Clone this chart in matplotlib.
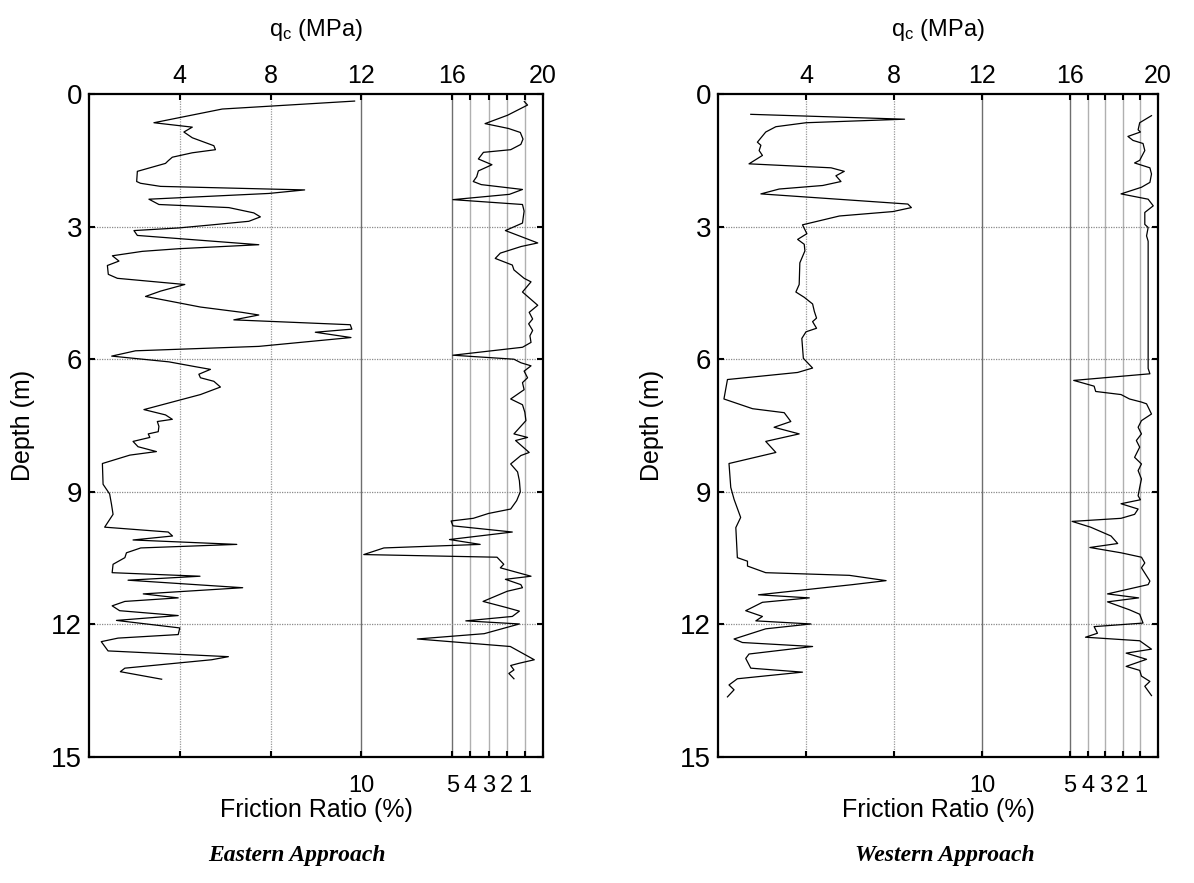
import matplotlib
matplotlib.use("Agg")
import matplotlib.pyplot as plt

plt.rcParams['font.family'] = ['Liberation Sans', 'DejaVu Sans']
plt.rcParams['mathtext.default'] = 'regular'

# ---------------- Eastern Approach ----------------
east_qc_depth = [0.16, 0.34, 0.65, 0.75, 0.86, 0.99, 1.17, 1.26, 1.33, 1.43, 1.51, 1.57, 1.75, 1.98,
                 2.02, 2.09, 2.17, 2.25, 2.38, 2.50, 2.57, 2.69, 2.78, 2.88, 2.96, 3.03, 3.09, 3.20,
                 3.41, 3.50, 3.56, 3.66, 3.78, 3.88, 4.08, 4.17, 4.31, 4.46, 4.58, 4.82, 4.94, 5.00,
                 5.11, 5.22, 5.32, 5.39, 5.51, 5.71, 5.81, 5.93, 6.06, 6.17, 6.23, 6.34, 6.42, 6.50,
                 6.63, 6.80, 6.95, 7.14, 7.26, 7.36, 7.41, 7.52, 7.64, 7.69, 7.77, 7.86, 7.98, 8.09,
                 8.17, 8.36, 8.83, 9.05, 9.28, 9.51, 9.80, 9.91, 10.00, 10.09, 10.19, 10.27, 10.38,
                 10.49, 10.64, 10.83, 10.91, 11.00, 11.17, 11.31, 11.40, 11.48, 11.58, 11.69, 11.80,
                 11.91, 12.08, 12.23, 12.31, 12.39, 12.60, 12.73, 12.80, 12.99, 13.07, 13.24]
east_qc = [11.70, 5.87, 2.86, 4.55, 4.18, 4.55, 5.50, 5.57, 4.55, 3.67, 3.49, 3.37, 2.13, 2.10,
           2.27, 3.15, 9.50, 7.92, 2.64, 3.08, 6.16, 7.26, 7.55, 7.04, 5.43, 3.96, 1.98, 2.13,
           7.48, 3.96, 2.35, 1.03, 1.32, 0.81, 0.85, 1.25, 4.22, 3.15, 2.49, 4.91, 6.74, 7.48,
           6.38, 11.51, 11.58, 9.97, 11.54, 7.48, 2.05, 1.00, 3.52, 4.69, 5.35, 4.84, 4.91, 5.50,
           5.79, 4.91, 3.81, 2.42, 3.37, 3.67, 3.01, 3.08, 3.05, 2.61, 2.68, 1.94, 2.16, 2.97,
           1.80, 0.59, 0.62, 0.91, 0.99, 1.06, 0.69, 3.49, 3.68, 1.94, 6.51, 2.28, 1.65,
           1.58, 1.06, 1.02, 4.89, 1.72, 6.77, 2.39, 3.93, 1.58, 1.02, 1.35, 3.93,
           1.21, 4.00, 3.93, 1.28, 0.54, 0.84, 6.14, 5.40, 1.58, 1.38, 3.20]

east_fr_depth = [0.17, 0.25, 0.48, 0.67, 0.78, 0.87, 1.02, 1.14, 1.26, 1.32, 1.47, 1.60, 1.74, 1.87,
                 1.98, 2.05, 2.16, 2.27, 2.39, 2.50, 2.65, 2.92, 3.09, 3.37, 3.45, 3.60, 3.72, 3.87,
                 3.98, 4.17, 4.25, 4.48, 4.78, 4.94, 5.09, 5.20, 5.35, 5.47, 5.62, 5.73, 5.91, 6.00,
                 6.08, 6.15, 6.27, 6.42, 6.53, 6.69, 6.90, 7.03, 7.20, 7.39, 7.69, 7.77, 7.84, 8.11,
                 8.18, 8.37, 8.55, 8.75, 9.00, 9.20, 9.39, 9.49, 9.60, 9.66, 9.77, 9.91, 10.08, 10.19,
                 10.27, 10.42, 10.48, 10.64, 10.72, 10.91, 10.98, 11.10, 11.17, 11.25, 11.48, 11.62,
                 11.70, 11.82, 11.92, 11.99, 12.21, 12.33, 12.50, 12.80, 12.88, 12.93, 13.03, 13.11,
                 13.23]
east_fr = [1.03, 0.85, 1.95, 3.19, 1.90, 1.25, 1.10, 1.22, 1.78, 3.28, 3.56, 2.81, 3.56, 3.65,
           3.84, 3.40, 1.13, 1.85, 4.96, 1.13, 1.04, 1.13, 2.07, 0.29, 1.20, 2.35, 2.63, 1.69,
           1.60, 1.04, 0.66, 1.13, 0.29, 0.76, 0.57, 0.79, 0.57, 0.72, 0.66, 1.13, 4.96, 1.60,
           1.22, 0.66, 1.04, 0.85, 1.13, 1.04, 1.78, 1.13, 1.00, 0.94, 1.60, 0.85, 1.51, 0.76,
           1.22, 1.78, 1.40, 1.30, 1.25, 1.45, 1.78, 3.00, 3.84, 5.06, 4.96, 1.69, 5.15, 3.46,
           8.76, 9.87, 2.53, 2.16, 2.35, 0.66, 2.07, 1.22, 1.13, 1.97, 3.30, 2.00,
           1.30, 1.69, 4.25, 1.30, 3.24, 6.92, 1.80, 0.48, 1.32, 1.78, 1.60, 1.88,
           1.60]

# ---------------- Western Approach ----------------
west_qc_depth = [0.46, 0.57, 0.65, 0.74, 0.86, 1.09, 1.16, 1.28, 1.39, 1.58, 1.67, 1.75, 1.85, 1.98,
                 2.07, 2.15, 2.26, 2.49, 2.57, 2.66, 2.76, 2.96, 3.16, 3.29, 3.40, 3.55, 3.82, 4.31,
                 4.48, 4.60, 4.75, 4.92, 5.07, 5.15, 5.30, 5.38, 5.53, 5.98, 6.20, 6.30, 6.46, 6.90,
                 7.12, 7.21, 7.41, 7.54, 7.69, 7.86, 8.11, 8.36, 8.90, 9.17, 9.58, 9.81, 10.49, 10.57,
                 10.68, 10.83, 10.89, 11.01, 11.10, 11.33, 11.40, 11.50, 11.69, 11.82, 11.92, 11.99,
                 12.10, 12.33, 12.41, 12.50, 12.67, 12.77, 12.99, 13.08, 13.23, 13.37, 13.48, 13.64]
west_qc = [1.49, 8.48, 4.00, 2.63, 2.17, 1.79, 1.95, 1.87, 2.02, 1.41, 5.14, 5.74, 5.36, 5.59,
           4.76, 2.78, 1.95, 8.63, 8.79, 7.95, 5.52, 3.84, 4.04, 3.62, 3.92, 3.95, 3.72, 3.69,
           3.54, 3.92, 4.30, 4.38, 4.48, 4.30, 4.48, 4.00, 3.81, 3.88, 4.30, 3.62, 0.43, 0.27,
           1.57, 3.01, 3.31, 2.55, 3.69, 2.17, 2.63, 0.50, 0.58, 0.73, 1.03, 0.81, 0.88, 1.34,
           1.34, 2.17, 5.97, 7.64, 6.12, 1.84, 4.15, 2.02, 1.26, 2.02, 1.72, 4.22,
           2.17, 0.73, 1.11, 4.30, 1.41, 1.26, 1.49, 3.84, 0.88, 0.50, 0.73, 0.43]

west_fr_depth = [0.49, 0.65, 0.81, 0.86, 0.96, 1.05, 1.12, 1.28, 1.50, 1.56, 1.67, 1.81, 2.00, 2.11,
                 2.26, 2.38, 2.53, 2.68, 2.95, 3.02, 3.21, 3.33, 6.21, 6.33, 6.48, 6.61, 6.73, 6.80,
                 6.90, 6.97, 7.01, 7.24, 7.39, 7.54, 7.69, 7.84, 7.99, 8.22, 8.37, 8.52, 8.71, 8.90,
                 9.09, 9.18, 9.27, 9.39, 9.51, 9.60, 9.67, 9.80, 10.00, 10.17, 10.26, 10.38, 10.48,
                 10.61, 10.72, 11.02, 11.10, 11.31, 11.40, 11.49, 11.67, 11.77, 11.97, 12.05, 12.20,
                 12.29, 12.37, 12.56, 12.65, 12.79, 12.95, 13.04, 13.17, 13.29, 13.40, 13.61]
west_fr = [0.37, 1.04, 1.13, 1.00, 1.71, 1.42, 0.85, 0.75, 1.04, 1.33, 0.46, 0.37, 0.46, 0.94,
           2.10, 0.56, 0.27, 0.75, 0.75, 0.56, 0.65, 0.56, 0.56, 0.46, 4.79, 3.63, 3.54, 2.10,
           1.62, 0.94, 0.65, 0.37, 0.94, 1.13, 0.94, 1.23, 1.04, 1.33, 0.94, 1.13, 0.94, 1.04,
           1.13, 1.00, 2.10, 1.13, 1.33, 2.10, 4.88, 3.83, 2.67, 2.29, 3.87, 2.10, 0.94,
           0.75, 0.94, 0.46, 0.56, 2.87, 1.10, 2.87, 1.62, 1.04, 0.85, 3.63, 3.44,
           4.12, 1.04, 0.37, 1.81, 0.65, 1.81, 1.04, 0.94, 0.46, 0.75, 0.37]

qc_ticks = [0, 4, 8, 12, 16, 16.8, 17.6, 18.4, 19.2, 20]
qc_ticklabels = ['', '4', '8', '12', '16', '', '', '', '', '20']
fr_ticks = [10, 5, 4, 3, 2, 1]
fr_ticklabels = ['10', '5', '4', '3', '2', '1']
depth_ticks = [0, 3, 6, 9, 12, 15]

W, H = 1194, 883
fig = plt.figure(figsize=(W / 100, H / 100), dpi=100)


def panel(left_px, right_px, qd, qv, fd, fv, title, title_x):
    top_px, bot_px = 94, 757
    ax = fig.add_axes([left_px / W, 1 - bot_px / H, (right_px - left_px) / W, (bot_px - top_px) / H])
    ax.set_xlim(0, 20)
    ax.set_ylim(15, 0)
    # grid lines
    for x in (4, 8):
        ax.axvline(x, color='#9a9a9a', lw=0.9, ls=(0, (1, 1)), zorder=0)
    for x in (12, 16):
        ax.axvline(x, color='#6e6e6e', lw=1.0, zorder=0)
    for x in (16.8, 17.6, 18.4, 19.2):
        ax.axvline(x, color='#b0b0b0', lw=1.0, zorder=0)
    for y in (3, 6, 9, 12):
        ax.axhline(y, color='#8a8a8a', lw=0.9, ls=(0, (1, 1)), zorder=0)

    ax2 = ax.twiny()
    ax2.set_xlim(25, 0)
    ax2.set_ylim(15, 0)
    ax.plot(qv, qd, color='black', lw=0.9, zorder=3)
    ax2.plot(fv, fd, color='black', lw=0.9, zorder=3)

    ax.set_xticks(qc_ticks)
    ax.set_xticklabels(qc_ticklabels)
    ax.tick_params(axis='x', top=True, bottom=True, labeltop=True, labelbottom=False,
                   direction='in', length=4, width=1.5, labelsize=18, pad=4)
    ax.set_yticks(depth_ticks)
    ax.tick_params(axis='y', left=True, right=True, direction='in', length=4, width=1.5,
                   labelsize=20, pad=5)
    for s in ax.spines.values():
        s.set_linewidth(1.6)

    ax2.xaxis.set_ticks_position('bottom')
    ax2.set_xticks(fr_ticks)
    ax2.set_xticklabels(fr_ticklabels)
    ax2.tick_params(axis='x', bottom=True, top=False, labelbottom=True, labeltop=False,
                    length=0, labelsize=17, pad=13)
    for s in ax2.spines.values():
        s.set_visible(False)

    ax.set_ylabel('Depth (m)', fontsize=18)
    ax.yaxis.set_label_coords(-54 / (right_px - left_px), 0.5)

    cx = (left_px + right_px) / 2
    fig.text(cx / W, 1 - 30 / H, 'q$_c$ (MPa)', ha='center', va='center', fontsize=17)
    fig.text(cx / W, 1 - 810 / H, 'Friction Ratio (%)', ha='center', va='center', fontsize=18)
    fig.text(title_x / W, 1 - 856 / H, title, ha='center', va='center', fontsize=17,
             family='Liberation Serif', weight='bold', style='italic')


panel(89, 543, east_qc_depth, east_qc, east_fr_depth, east_fr, 'Eastern Approach', 297)
panel(718, 1158, west_qc_depth, west_qc, west_fr_depth, west_fr, 'Western Approach', 945)

fig.savefig('out.png', dpi=100)
